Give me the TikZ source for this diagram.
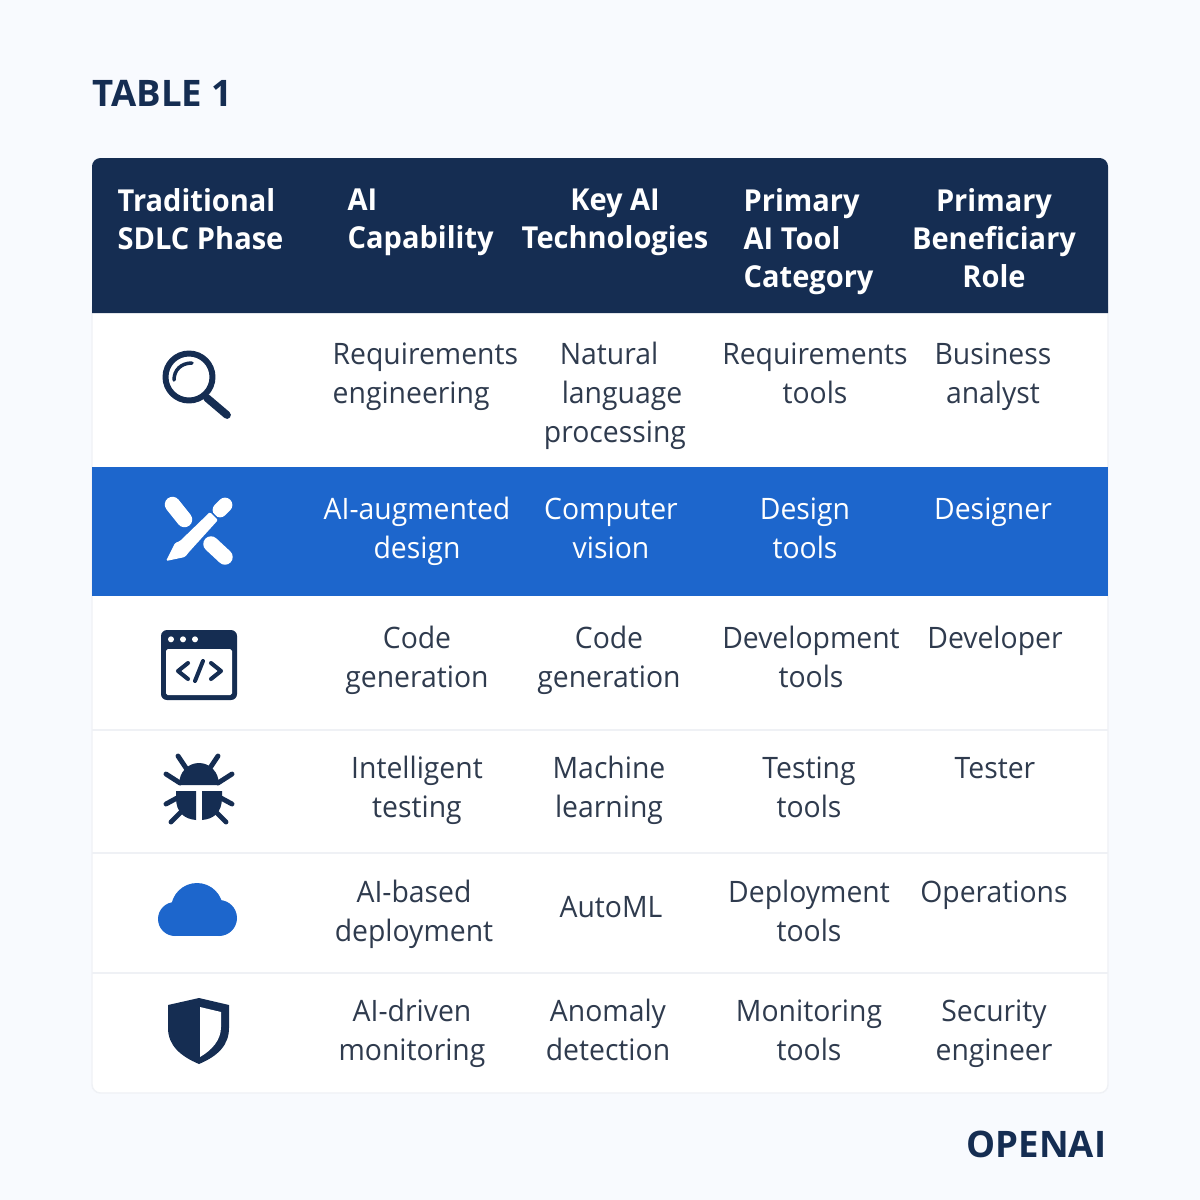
\documentclass[tikz,border=0pt]{standalone}
\usepackage{fontspec}
\setmainfont{Open Sans}
\newfontfamily\narrowfont[FakeStretch=0.96]{Open Sans}
\definecolor{navy}{HTML}{152D52}
\definecolor{barblue}{HTML}{1D66CC}
\definecolor{pagebg}{HTML}{F8FAFE}
\definecolor{rowline}{HTML}{EFF1F5}
\definecolor{bodytext}{HTML}{2F3B4E}
\tikzset{
	head/.style={font=\narrowfont\fontsize{8.6}{10.8}\selectfont\bfseries, text=white, inner sep=0pt, yshift=-1.5pt, execute at begin node=\strut, execute at end node=\strut},
	cell/.style={font=\narrowfont\fontsize{8.4}{11.1}\selectfont, text=bodytext, align=center, inner sep=0pt, yshift=-1.5pt, execute at begin node=\strut, execute at end node=\strut},
	cellw/.style={cell, text=white},
	ico/.style={line width=1.4pt, draw=navy, line cap=round, line join=round}
}
\begin{document}
\begin{tikzpicture}
	\useasboundingbox (0,0) rectangle (12,-12);
	\fill[pagebg] (0,0) rectangle (12,-12);
	% table body
	\draw[rowline, fill=white, rounded corners=2.4pt] (0.92,-3) rectangle (11.08,-10.93);
	\fill[navy] (0.92,-3.13) [rounded corners=2.4pt] -- (0.92,-1.58) -- (11.08,-1.58) [sharp corners] -- (11.08,-3.13) -- cycle;
	\fill[barblue] (0.92,-4.67) rectangle (11.08,-5.96);
	\draw[rowline] (0.92,-7.3) -- (11.08,-7.3);
	\draw[rowline] (0.92,-8.53) -- (11.08,-8.53);
	\draw[rowline] (0.92,-9.73) -- (11.08,-9.73);
	% titles
	\node [font=\fontsize{10.4}{12}\selectfont\bfseries, text=navy, anchor=west, inner sep=0pt] (title) at (0.92,-0.93) {TABLE 1};
	\node [font=\fontsize{10.4}{12}\selectfont\bfseries, text=navy, anchor=east, inner sep=0pt] (brand) at (11.07,-11.44) {OPENAI};
	% header
	\node [head, align=left, anchor=west] (h1) at (1.17,-2.19) {Traditional\\SDLC Phase};
	\node [head, align=left, anchor=west] (h2) at (3.47,-2.19) {AI\\Capability};
	\node [head, align=center] (h3) at (6.15,-2.19) {Key AI\\Technologies};
	\node [head, align=left, anchor=west] (h4) at (7.43,-2.38) {Primary\\AI Tool\\Category};
	\node [head, align=center] (h5) at (9.94,-2.38) {Primary\\Beneficiary\\Role};
	% rows
	\node [cell, align=left, anchor=west] (r1b) at (3.32,-3.735) {Requirements\\engineering};
	\node [cell] (r1c) at (6.15,-3.93) {Natural\hspace*{3.4pt}\\\hspace*{4pt}language\\processing};
	\node [cell] (r1d) at (8.15,-3.735) {Requirements\\tools};
	\node [cell] (r1e) at (9.93,-3.735) {Business\\analyst};
	\node [cellw] (r2b) at (4.17,-5.285) {AI-augmented\\design};
	\node [cellw] (r2c) at (6.11,-5.285) {Computer\\vision};
	\node [cellw] (r2d) at (8.05,-5.285) {Design\\tools};
	\node [cellw] (r2e) at (9.93,-5.06) {Designer};
	\node [cell] (r3b) at (4.17,-6.575) {Code\\generation};
	\node [cell] (r3c) at (6.09,-6.575) {Code\\generation};
	\node [cell] (r3d) at (8.11,-6.575) {Development\\tools};
	\node [cell] (r3e) at (9.95,-6.35) {Developer};
	\node [cell] (r4b) at (4.17,-7.875) {Intelligent\\testing};
	\node [cell] (r4c) at (6.09,-7.875) {Machine\\learning};
	\node [cell] (r4d) at (8.09,-7.875) {Testing\\tools};
	\node [cell] (r4e) at (9.95,-7.65) {Tester};
	\node [cell] (r5b) at (4.14,-9.115) {AI-based\\deployment};
	\node [cell] (r5c) at (6.11,-9.04) {AutoML};
	\node [cell] (r5d) at (8.09,-9.115) {Deployment\\tools};
	\node [cell] (r5e) at (9.94,-8.89) {Operations};
	\node [cell] (r6b) at (4.12,-10.305) {AI-driven\\monitoring};
	\node [cell] (r6c) at (6.08,-10.305) {Anomaly\\detection};
	\node [cell] (r6d) at (8.09,-10.305) {Monitoring\\tools};
	\node [cell] (r6e) at (9.94,-10.305) {Security\\engineer};
	% magnifier
	\draw[ico, line width=1.7pt] (1.89,-3.77) circle (0.235);
	\draw[ico, line width=2.2pt] (2.07,-3.98) -- (2.27,-4.15);
	\draw[ico, line width=1pt] (1.74,-3.8) .. controls (1.74,-3.7) and (1.81,-3.63) .. (1.92,-3.63);
	% ruler and pencil
	\draw[white, line width=4.4pt, line cap=round] (1.725,-5.045) -- (1.845,-5.195);
	\draw[white, line width=4.4pt, line cap=round] (2.11,-5.44) -- (2.25,-5.57);
	\draw[white, line width=4.2pt, line cap=round] (2.2,-5.1) -- (2.25,-5.05);
	\draw[barblue, line width=0.5pt] (2.07,-5.14) -- (2.2,-5.21);
	\draw[barblue, line width=0.5pt] (2.1,-5.11) -- (2.19,-5.2);
	\fill[white, rounded corners=0.4pt] (1.66,-5.61) -- (1.75,-5.43) -- (1.8,-5.41) -- (2.1,-5.12) -- (2.18,-5.2) -- (1.89,-5.52) -- (1.85,-5.57) -- cycle;
	% code window
	\fill[navy, rounded corners=1.7pt] (1.61,-6.3) rectangle (2.37,-7);
	\fill[white, rounded corners=0.5pt] (1.66,-6.49) rectangle (2.32,-6.95);
	\fill[white] (1.71,-6.393) circle (0.03);
	\fill[white] (1.83,-6.393) circle (0.03);
	\fill[white] (1.95,-6.393) circle (0.03);
	\draw[ico, line width=1.15pt] (1.88,-6.63) -- (1.78,-6.71) -- (1.88,-6.79);
	\draw[ico, line width=1.15pt] (2.03,-6.61) -- (1.95,-6.81);
	\draw[ico, line width=1.15pt] (2.11,-6.63) -- (2.21,-6.71) -- (2.11,-6.79);
	% bug
	\fill[navy] (1.79,-7.85) .. controls (1.79,-7.72) and (1.88,-7.63) .. (1.99,-7.63) .. controls (2.1,-7.63) and (2.19,-7.72) .. (2.19,-7.85) -- cycle;
	\fill[navy] (1.76,-7.91) -- (1.96,-7.91) -- (1.96,-8.2) .. controls (1.84,-8.19) and (1.76,-8.12) .. (1.76,-7.98) -- cycle;
	\fill[navy] (2.22,-7.91) -- (2.02,-7.91) -- (2.02,-8.2) .. controls (2.14,-8.19) and (2.22,-8.12) .. (2.22,-7.98) -- cycle;
	\draw[ico] (1.78,-7.56) -- (1.88,-7.71);
	\draw[ico] (2.18,-7.56) -- (2.08,-7.71);
	\draw[ico] (1.66,-7.74) -- (1.8,-7.83);
	\draw[ico] (2.32,-7.74) -- (2.18,-7.83);
	\draw[ico] (1.66,-8.04) -- (1.77,-7.98);
	\draw[ico] (2.32,-8.04) -- (2.21,-7.98);
	\draw[ico] (1.71,-8.22) -- (1.8,-8.13);
	\draw[ico] (2.26,-8.22) -- (2.17,-8.13);
	% cloud
	\fill[barblue] (1.75,-9.19) circle (0.17);
	\fill[barblue] (1.97,-9.09) circle (0.26);
	\fill[barblue] (2.19,-9.18) circle (0.18);
	\fill[barblue] (1.75,-9.2) rectangle (2.19,-9.36);
	% shield
	\fill[navy] (1.99,-9.98) -- (1.68,-10.05) -- (1.68,-10.28) .. controls (1.68,-10.45) and (1.8,-10.56) .. (1.99,-10.64) .. controls (2.18,-10.56) and (2.29,-10.45) .. (2.29,-10.28) -- (2.29,-10.05) -- cycle;
	\fill[white] (2,-10.07) -- (2.21,-10.12) -- (2.21,-10.27) .. controls (2.21,-10.4) and (2.12,-10.5) .. (2,-10.57) -- cycle;
\end{tikzpicture}
\end{document}
